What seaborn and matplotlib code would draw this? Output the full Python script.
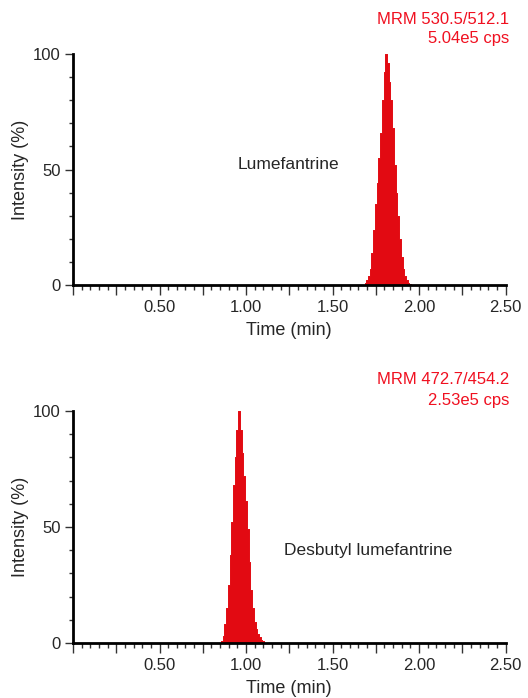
import numpy as np
import pandas as pd
import seaborn as sns
import matplotlib.pyplot as plt
from matplotlib.ticker import MultipleLocator, FuncFormatter

# chromatogram data (time in min, intensity in %)
lume_time = [1.68, 1.69, 1.70, 1.71, 1.72, 1.73, 1.74, 1.75, 1.76, 1.77,
             1.78, 1.79, 1.80, 1.81, 1.82, 1.83, 1.84, 1.85, 1.86, 1.87,
             1.88, 1.89, 1.90, 1.91, 1.92, 1.93, 1.94, 1.95, 1.96]
lume_int = [0, 1, 2, 4, 7, 14, 24, 35, 44, 55,
            66, 80, 92, 100, 96, 88, 80, 68, 52, 40,
            30, 20, 12, 7, 4, 2, 1, 0.3, 0]

desb_time = [0.85, 0.86, 0.87, 0.88, 0.89, 0.90, 0.91, 0.92, 0.93, 0.94,
             0.95, 0.96, 0.97, 0.98, 0.99, 1.00, 1.01, 1.02, 1.03, 1.04,
             1.05, 1.06, 1.07, 1.08, 1.09, 1.10, 1.11, 1.12]
desb_int = [0, 1, 3, 8, 15, 25, 38, 52, 68, 80,
            92, 100, 92, 82, 72, 61, 49, 35, 23, 15,
            9, 6, 4, 2.5, 1.5, 0.7, 0.2, 0]

panels = [
    ("Lumefantrine", lume_time, lume_int, (1.245, 52), "MRM 530.5/512.1", "5.04e5 cps"),
    ("Desbutyl lumefantrine", desb_time, desb_int, (1.705, 40), "MRM 472.7/454.2", "2.53e5 cps"),
]

sns.set_style("ticks")
plt.rcParams["font.family"] = ["Liberation Sans", "DejaVu Sans"]

peak_color = "#e20a12"
W, H = 528, 698

fig = plt.figure(figsize=(W / 100, H / 100), dpi=100)
# axes boxes in pixels: left, right, top, bottom
ax_px = [(73, 505.5, 54, 285), (73, 505.5, 411, 643)]
# red header text line centres (pixels from top)
head_px = [(20, 39), (380, 401)]

for (l, r, t_, b), (y1, y2), (name, t, inten, label_xy, mrm, cps) in zip(ax_px, head_px, panels):
    ax = fig.add_axes([l / W, 1 - b / H, (r - l) / W, (b - t_) / H])
    df = pd.DataFrame({"time": t, "intensity": inten})
    ax.fill_between(df["time"], df["intensity"], step="mid", color=peak_color,
                    lw=0.5, edgecolor=peak_color)
    sns.lineplot(data=df, x="time", y="intensity", ax=ax, color=peak_color,
                 drawstyle="steps-mid", lw=0.6)

    ax.set_xlim(0, 2.5)
    ax.set_ylim(0, 100)
    sns.despine(ax=ax)
    for side in ["left", "bottom"]:
        ax.spines[side].set_linewidth(2)
        ax.spines[side].set_color("black")

    ax.xaxis.set_major_locator(MultipleLocator(0.25))
    ax.xaxis.set_minor_locator(MultipleLocator(0.05))
    ax.xaxis.set_major_formatter(FuncFormatter(
        lambda v, p: f"{v:.2f}" if v > 0.01 and abs(v / 0.5 - round(v / 0.5)) < 1e-6 else ""))
    ax.yaxis.set_major_locator(MultipleLocator(50))
    ax.yaxis.set_minor_locator(MultipleLocator(10))

    ax.tick_params(axis="x", which="major", length=7, width=1, color="#333333",
                   labelsize=12, pad=4)
    ax.tick_params(axis="x", which="minor", length=3.6, width=1, color="#333333")
    ax.tick_params(axis="y", which="major", length=5.5, width=1, color="#333333",
                   labelsize=12, pad=3.5)
    ax.tick_params(axis="y", which="minor", length=3, width=1, color="#333333")

    ax.set_xlabel("Time (min)", fontsize=13, labelpad=5)
    ax.set_ylabel("Intensity (%)", fontsize=13, labelpad=3)

    ax.text(label_xy[0], label_xy[1], name, fontsize=12.5, ha="center", va="center")
    fig.text(509 / W, 1 - y1 / H, mrm, ha="right", va="center", color="#f01020", fontsize=12)
    fig.text(509 / W, 1 - y2 / H, cps, ha="right", va="center", color="#f01020", fontsize=12)

fig.savefig("out.png", dpi=100)
